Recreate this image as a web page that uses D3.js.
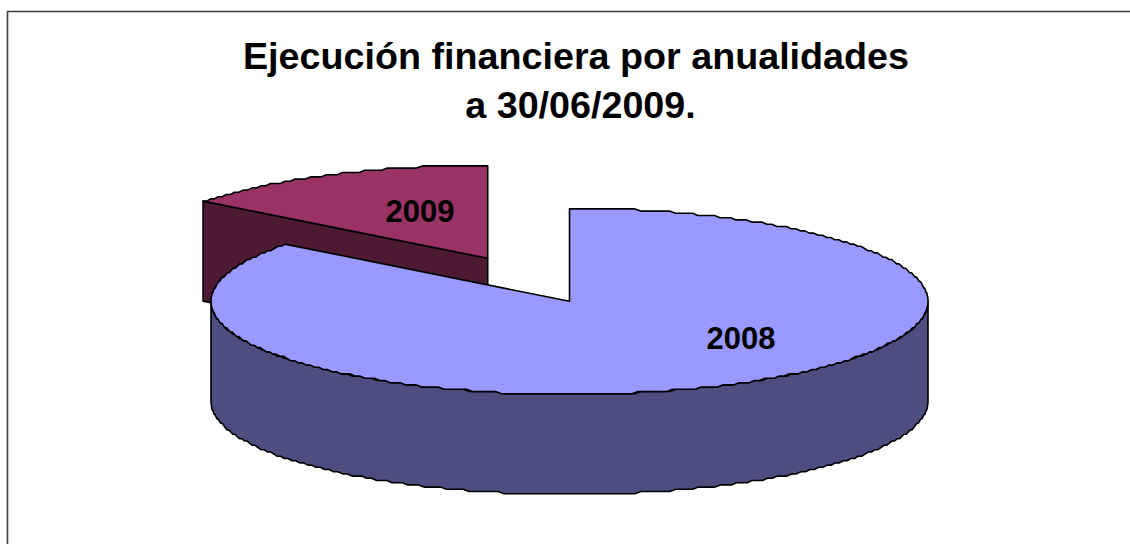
<!DOCTYPE html>
<html><head><meta charset="utf-8">
<script src="https://cdn.jsdelivr.net/npm/d3@7/dist/d3.min.js"></script>
<style>html,body{margin:0;padding:0;background:#fff}svg{display:block}text{font-family:"Liberation Sans",Arial,sans-serif;font-weight:700;fill:#000}</style>
</head><body><div id="c"></div>
<script>
const categories = ["2008", "2009"];
const values = [85.4, 14.6];
const titleLines = ["Ejecución financiera por anualidades", "a 30/06/2009."];
const topColors = ["#9999FF", "#993366"];
const sideColors = ["#4D4D80", "#4D1933"];

const W = 1130, H = 544;
const cx = 569.5, cy = 301.3, rx = 358.5, ry = 93, depth = 100;
const explode = [[0, 0], [-81.8, -43]];
const labelOffset = [[171.5, 37], [-149.5, -90]];
const titleX = [576, 580.5];
const grid = 2.2;

const svg = d3.select("#c").append("svg").attr("width", W).attr("height", H);
svg.append("path").attr("d", `M7.5,${H}V11.5H${W}`).attr("fill", "none").attr("stroke", "#404040").attr("stroke-width", 1.6);

const title = svg.append("text").attr("text-anchor", "middle").attr("font-size", 37.7);
titleLines.forEach((t, i) => title.append("tspan").attr("x", titleX[i]).attr("y", 69 + i * 49).text(t));

const arcs = d3.pie().sort(null)(values);
const sx = d3.scaleLinear().domain([-1, 1]).range([-rx, rx]);
const sy = d3.scaleLinear().domain([-1, 1]).range([-ry, ry]);
const snap = v => Math.round(v / grid) * grid;
const line = d3.line();
const pt = (a, ox, oy, dz) => [
  ox + sx(Math.sin(a)),
  oy + snap(sy(-Math.cos(a))) + dz
];
const sample = (a0, a1, ox, oy, dz) => {
  const n = Math.max(2, Math.round(Math.abs(a1 - a0) * 60));
  return d3.range(n + 1).map(i => pt(a0 + (a1 - a0) * i / n, ox, oy, dz));
};
const stroke = s => s.attr("stroke", "#000").attr("stroke-width", 1.6).attr("stroke-linejoin", "round");

// far slice first, main slice over it
[1, 0].forEach(i => {
  const d = arcs[i];
  const ox = cx + explode[i][0], oy = cy + explode[i][1];
  // cut face facing the viewer on the slice's trailing edge
  if (i === 1) {
    const e = pt(d.startAngle, ox, oy, 0);
    const ed = pt(d.startAngle, ox, oy, depth);
    stroke(svg.append("path").attr("fill", sideColors[i]))
      .attr("d", line([e, [ox, oy], [ox, oy + depth], ed]) + "Z");
  }
  // outer wall: visible part of the rim (right through bottom to left)
  const a0 = Math.max(d.startAngle, Math.PI / 2), a1 = Math.min(d.endAngle, 1.5 * Math.PI);
  if (a1 > a0) {
    const top = sample(a0, a1, ox, oy, 0);
    const bot = sample(a1, a0, ox, oy, depth);
    stroke(svg.append("path").attr("fill", sideColors[i])).attr("d", line(top.concat(bot)) + "Z");
  }
  // top face
  stroke(svg.append("path").attr("fill", topColors[i]))
    .attr("d", line([[ox, oy]].concat(sample(d.startAngle, d.endAngle, ox, oy, 0))) + "Z");
});

svg.selectAll("text.lab").data(categories).join("text").attr("class", "lab")
  .attr("text-anchor", "middle").attr("font-size", 31)
  .attr("x", (d, i) => cx + labelOffset[i][0])
  .attr("y", (d, i) => cy + labelOffset[i][1] + 11)
  .text(d => d);
</script></body></html>
